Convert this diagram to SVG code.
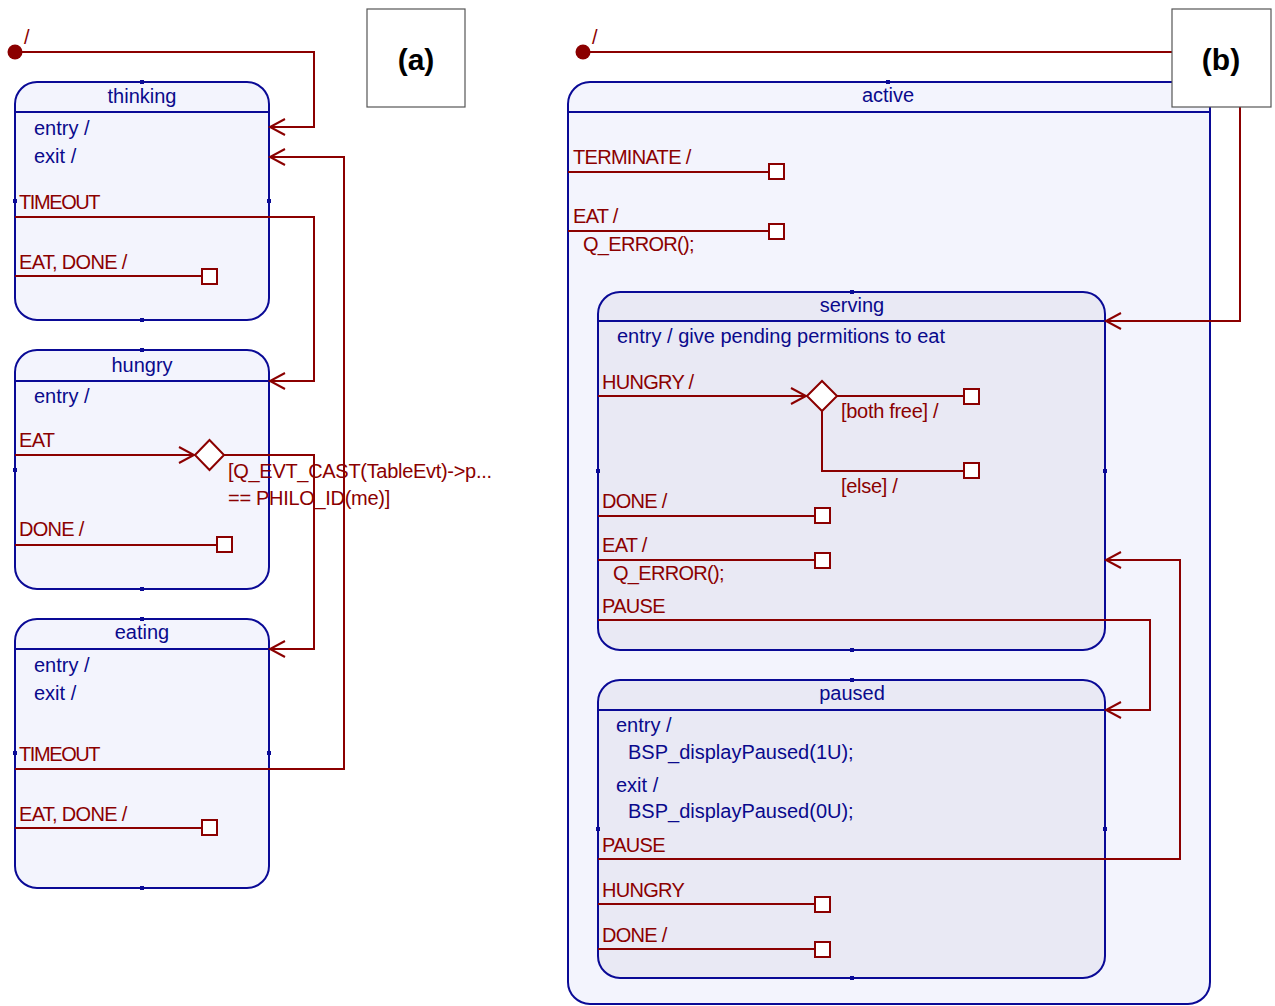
<svg xmlns="http://www.w3.org/2000/svg" width="1275" height="1006" viewBox="0 0 1275 1006">
<defs>
<style>
.st{fill:#f3f4fd;stroke:#0a0a96;stroke-width:2}
.st2{fill:#e9e9f4;stroke:#0a0a96;stroke-width:2}
.hl{stroke:#0a0a96;stroke-width:2;fill:none}
.pt{fill:#0a0a96}
.ttl{font-family:"Liberation Sans",Arial,sans-serif;font-size:20px;fill:#0a0a8c;text-anchor:middle}
.bt{font-family:"Liberation Sans",Arial,sans-serif;font-size:20px;fill:#0a0a8c}
.rt{font-family:"Liberation Sans",Arial,sans-serif;font-size:20px;fill:#8b0000;letter-spacing:-0.7px}
.gt{font-family:"Liberation Sans",Arial,sans-serif;font-size:20px;fill:#8b0000;letter-spacing:-0.3px}
.cn{fill:none;stroke:#8b0000;stroke-width:2}
.bx{fill:#ffffff;stroke:#8b0000;stroke-width:2}
.dm{fill:#ffffff;stroke:#8b0000;stroke-width:2}
.lbl{fill:#ffffff;stroke:#555555;stroke-width:1.2}
.lt{font-family:"Liberation Sans",Arial,sans-serif;font-size:30px;font-weight:bold;fill:#000000;text-anchor:middle}
</style>
<marker id="arr" markerUnits="userSpaceOnUse" markerWidth="20" markerHeight="20" viewBox="-16 -10 20 20" refX="0" refY="0" orient="auto">
<path d="M-15,-8 L0,0 L-15,8" fill="none" stroke="#8b0000" stroke-width="2"/>
</marker>
</defs>

<!-- (a) diagram states -->
<g id="thinking">
<rect class="st" x="15" y="82" width="254" height="238" rx="22"/>
<line class="hl" x1="15" y1="112" x2="269" y2="112"/>
<rect class="pt" x="140" y="80" width="4" height="4"/>
<rect class="pt" x="140" y="318" width="4" height="4"/>
<rect class="pt" x="13" y="199" width="4" height="4"/>
<rect class="pt" x="267" y="199" width="4" height="4"/>
<text class="ttl" x="142" y="103">thinking</text>
<text class="bt" x="34" y="135">entry /</text>
<text class="bt" x="34" y="163">exit /</text>
</g>

<g id="hungry">
<rect class="st" x="15" y="350" width="254" height="239" rx="22"/>
<line class="hl" x1="15" y1="381" x2="269" y2="381"/>
<rect class="pt" x="140" y="348" width="4" height="4"/>
<rect class="pt" x="140" y="587" width="4" height="4"/>
<rect class="pt" x="13" y="468" width="4" height="4"/>
<text class="ttl" x="142" y="372">hungry</text>
<text class="bt" x="34" y="403">entry /</text>
</g>

<g id="eating">
<rect class="st" x="15" y="619" width="254" height="269" rx="22"/>
<line class="hl" x1="15" y1="649" x2="269" y2="649"/>
<rect class="pt" x="140" y="617" width="4" height="4"/>
<rect class="pt" x="140" y="886" width="4" height="4"/>
<rect class="pt" x="13" y="751" width="4" height="4"/>
<rect class="pt" x="267" y="751" width="4" height="4"/>
<text class="ttl" x="142" y="639">eating</text>
<text class="bt" x="34" y="672">entry /</text>
<text class="bt" x="34" y="700">exit /</text>
</g>

<!-- (b) diagram states -->
<g id="active">
<rect class="st" x="568" y="82" width="642" height="922" rx="22"/>
<line class="hl" x1="568" y1="112" x2="1210" y2="112"/>
<rect class="pt" x="886" y="80" width="4" height="4"/>
<text class="ttl" x="888" y="102">active</text>
</g>

<g id="serving">
<rect class="st2" x="598" y="292" width="507" height="358" rx="22"/>
<line class="hl" x1="598" y1="321" x2="1105" y2="321"/>
<rect class="pt" x="850" y="290" width="4" height="4"/>
<rect class="pt" x="850" y="648" width="4" height="4"/>
<rect class="pt" x="596" y="469" width="4" height="4"/>
<rect class="pt" x="1103" y="469" width="4" height="4"/>
<text class="ttl" x="852" y="312">serving</text>
<text class="bt" x="617" y="343">entry / give pending permitions to eat</text>
</g>

<g id="paused">
<rect class="st2" x="598" y="680" width="507" height="298" rx="22"/>
<line class="hl" x1="598" y1="710" x2="1105" y2="710"/>
<rect class="pt" x="850" y="678" width="4" height="4"/>
<rect class="pt" x="850" y="976" width="4" height="4"/>
<rect class="pt" x="596" y="827" width="4" height="4"/>
<rect class="pt" x="1103" y="827" width="4" height="4"/>
<text class="ttl" x="852" y="700">paused</text>
<text class="bt" x="616" y="732">entry /</text>
<text class="bt" x="628" y="759">BSP_displayPaused(1U);</text>
<text class="bt" x="616" y="792">exit /</text>
<text class="bt" x="628" y="818">BSP_displayPaused(0U);</text>
</g>

<!-- connectors -->
<g id="connectors">
<!-- (a) -->
<circle cx="15" cy="52" r="7.5" fill="#8b0000"/>
<text class="rt" x="24" y="44">/</text>
<path class="cn" d="M15,52 H314 V127 H270" marker-end="url(#arr)"/>
<path class="cn" d="M15,217 H314 V381 H270" marker-end="url(#arr)"/>
<text class="rt" x="19" y="209" style="letter-spacing:-1.4px">TIMEOUT</text>
<line class="cn" x1="15" y1="276" x2="202" y2="276"/>
<rect class="bx" x="202" y="269" width="15" height="15"/>
<text class="rt" x="19" y="269">EAT, DONE /</text>

<path class="cn" d="M15,455 H194" marker-end="url(#arr)"/>
<text class="rt" x="19" y="447">EAT</text>
<path class="cn" d="M224,455 H314 V649 H270" marker-end="url(#arr)"/>
<polygon class="dm" points="195,455 209.5,440 224,455 209.5,470"/>
<text class="gt" x="228" y="478">[Q_EVT_CAST(TableEvt)-&gt;p...</text>
<text class="gt" x="228" y="505">== PHILO_ID(me)]</text>
<line class="cn" x1="15" y1="545" x2="217" y2="545"/>
<rect class="bx" x="217" y="537" width="15" height="15"/>
<text class="rt" x="19" y="536">DONE /</text>

<path class="cn" d="M15,769 H344 V157 H270" marker-end="url(#arr)"/>
<text class="rt" x="19" y="761" style="letter-spacing:-1.4px">TIMEOUT</text>
<line class="cn" x1="15" y1="828" x2="202" y2="828"/>
<rect class="bx" x="202" y="820" width="15" height="15"/>
<text class="rt" x="19" y="821">EAT, DONE /</text>

<!-- (b) -->
<circle cx="583" cy="52" r="7.5" fill="#8b0000"/>
<text class="rt" x="592" y="44">/</text>
<path class="cn" d="M583,52 H1240 V321 H1106" marker-end="url(#arr)"/>

<line class="cn" x1="568" y1="172" x2="769" y2="172"/>
<rect class="bx" x="769" y="164" width="15" height="15"/>
<text class="rt" x="573" y="164">TERMINATE /</text>
<line class="cn" x1="568" y1="231" x2="769" y2="231"/>
<rect class="bx" x="769" y="224" width="15" height="15"/>
<text class="rt" x="573" y="223">EAT /</text>
<text class="rt" x="583" y="251">Q_ERROR();</text>

<path class="cn" d="M598,396 H806" marker-end="url(#arr)"/>
<text class="rt" x="602" y="389">HUNGRY /</text>
<line class="cn" x1="837" y1="396" x2="964" y2="396"/>
<rect class="bx" x="964" y="389" width="15" height="15"/>
<text class="gt" x="841" y="418">[both free] /</text>
<path class="cn" d="M822,411 V471 H964"/>
<rect class="bx" x="964" y="463" width="15" height="15"/>
<text class="gt" x="841" y="493">[else] /</text>
<polygon class="dm" points="807,396 822,381 837,396 822,411"/>

<line class="cn" x1="598" y1="516" x2="815" y2="516"/>
<rect class="bx" x="815" y="508" width="15" height="15"/>
<text class="rt" x="602" y="508">DONE /</text>
<line class="cn" x1="598" y1="560" x2="815" y2="560"/>
<rect class="bx" x="815" y="553" width="15" height="15"/>
<text class="rt" x="602" y="552">EAT /</text>
<text class="rt" x="613" y="580">Q_ERROR();</text>

<path class="cn" d="M598,620 H1150 V710 H1106" marker-end="url(#arr)"/>
<text class="rt" x="602" y="613">PAUSE</text>
<path class="cn" d="M598,859 H1180 V560 H1106" marker-end="url(#arr)"/>
<text class="rt" x="602" y="852">PAUSE</text>

<line class="cn" x1="598" y1="904" x2="815" y2="904"/>
<rect class="bx" x="815" y="897" width="15" height="15"/>
<text class="rt" x="602" y="897">HUNGRY</text>
<line class="cn" x1="598" y1="949" x2="815" y2="949"/>
<rect class="bx" x="815" y="942" width="15" height="15"/>
<text class="rt" x="602" y="942">DONE /</text>
</g>

<!-- labels (a) and (b) -->
<g id="label-a">
<rect class="lbl" x="367" y="9" width="98" height="98"/>
<text class="lt" x="416" y="70">(a)</text>
</g>
<g id="label-b">
<rect class="lbl" x="1172" y="9" width="99" height="98"/>
<text class="lt" x="1221" y="70">(b)</text>
</g>
</svg>
